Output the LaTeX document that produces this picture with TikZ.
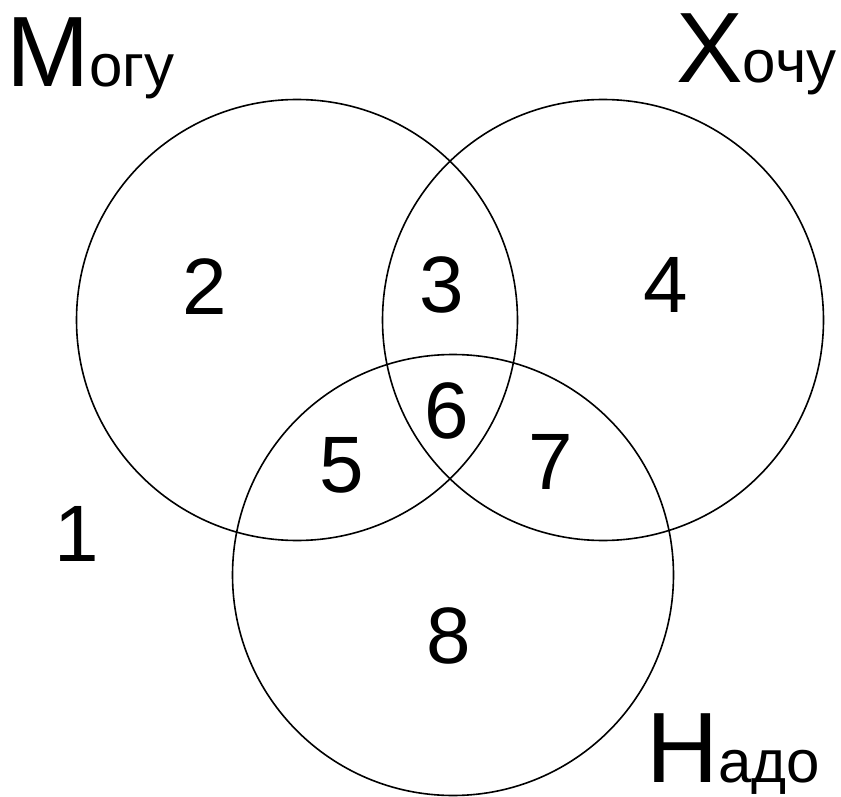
\documentclass[tikz,border=0pt]{standalone}
\usepackage{fontspec}
\setmainfont{Liberation Sans}
\begin{document}
\begin{tikzpicture}[x=1pt,y=-1pt,
  ring/.style={draw=black,line width=1.6pt},
  num/.style={inner sep=0pt,font=\fontsize{80}{80}\selectfont},
  big/.style={inner sep=0pt,anchor=base west},
]
\useasboundingbox (0,0) rectangle (841,797);
\node[ring,circle,minimum size=441pt,inner sep=0pt] (mogu) at (297,320) {};
\node[ring,circle,minimum size=441pt,inner sep=0pt] (hochu) at (603,320) {};
\node[ring,circle,minimum size=441pt,inner sep=0pt] (nado) at (453,575) {};
\node[big] (lm) at (6,87) {\fontsize{100}{100}\selectfont М\fontsize{60}{60}\selectfont огу};
\node[big] (lh) at (676,83) {\fontsize{100}{100}\selectfont Х\fontsize{60}{60}\selectfont очу};
\node[big] (ln) at (646,782) {\fontsize{100}{100}\selectfont Н\fontsize{60}{60}\selectfont адо};
\node[num] (n1) at (77,534) {1};
\node[num] (n2) at (205,287) {2};
\node[num] (n3) at (442,285) {3};
\node[num] (n4) at (666,285) {4};
\node[num] (n5) at (342,465) {5};
\node[num] (n6) at (447,411) {6};
\node[num] (n7) at (551,462) {7};
\node[num] (n8) at (449,636) {8};
\end{tikzpicture}
\end{document}
